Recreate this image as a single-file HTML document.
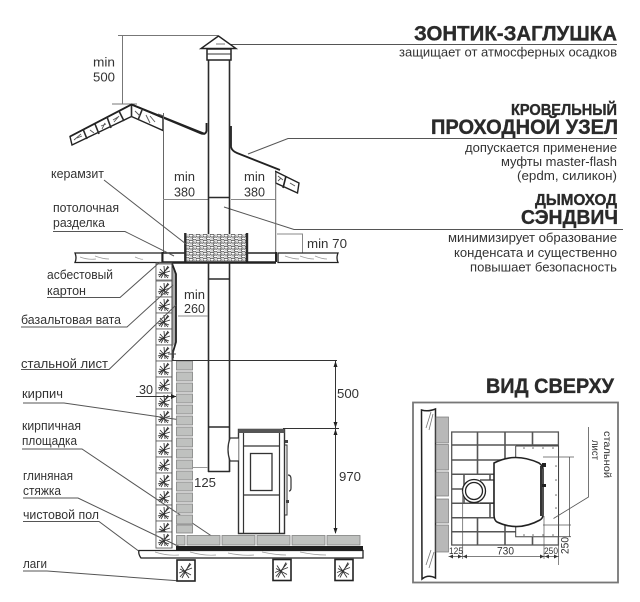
<!DOCTYPE html>
<html><head><meta charset="utf-8"><style>
html,body{margin:0;padding:0;background:#fff;width:640px;height:602px;overflow:hidden}
svg{display:block}
text{font-family:"Liberation Sans",sans-serif;fill:#333;font-size:13px}
.b{font-weight:bold;fill:#2a2a2a;stroke:#2a2a2a;stroke-width:.35}
.l{fill:none;stroke:#555;stroke-width:1}
.d{fill:none;stroke:#2b2b2b;stroke-width:1.6}
.t{fill:none;stroke:#2b2b2b;stroke-width:2.4}
</style></head><body>
<svg width="640" height="602" viewBox="0 0 640 602" xmlns="http://www.w3.org/2000/svg">
<defs>
<symbol id="h" viewBox="0 0 16 16" width="16" height="16" overflow="visible">
<rect x="0" y="0" width="16" height="16" fill="#fff" stroke="#555" stroke-width=".8"/>
<path d="M3 13L13 3M5 14L12 2M3 8L13 12M4 5L12 14M2 11L14 7M8 2L9 14" fill="none" stroke="#333" stroke-width=".9"/>
</symbol>
<symbol id="r" viewBox="0 0 20 23" width="20" height="23" overflow="visible">
<rect x="1" y="1" width="18" height="21" fill="#fff" stroke="#222" stroke-width="1.6"/>
<path d="M4 18L15 5M6 19L14 4M4 10L15 16M5 7L13 19M3 14L16 9" fill="none" stroke="#333" stroke-width=".9"/>
</symbol>
<pattern id="g" width="7" height="6" patternUnits="userSpaceOnUse">
<rect width="7" height="6" fill="#d8d8d8"/>
<ellipse cx="2" cy="1.6" rx="2.1" ry="1.4" fill="#fff" stroke="#444" stroke-width=".8"/>
<ellipse cx="5.5" cy="4.4" rx="2.1" ry="1.4" fill="#fff" stroke="#444" stroke-width=".8"/>
</pattern>
</defs>

<!-- right column text -->
<text x="617" y="40.5" text-anchor="end" class="b" style="font-size:21px" textLength="203" lengthAdjust="spacingAndGlyphs">ЗОНТИК-ЗАГЛУШКА</text>
<path class="l" d="M225 44.5H617"/>
<text x="617" y="56.5" text-anchor="end" textLength="218" lengthAdjust="spacingAndGlyphs">защищает от атмосферных осадков</text>
<text x="617" y="115" text-anchor="end" class="b" style="font-size:16px" textLength="106" lengthAdjust="spacingAndGlyphs">КРОВЕЛЬНЫЙ</text>
<text x="618" y="134" text-anchor="end" class="b" style="font-size:21px" textLength="187" lengthAdjust="spacingAndGlyphs">ПРОХОДНОЙ УЗЕЛ</text>
<path class="l" d="M248 154L288 138.5H617"/>
<text x="617" y="152" text-anchor="end" textLength="152" lengthAdjust="spacingAndGlyphs">допускается применение</text>
<text x="617" y="166" text-anchor="end" textLength="116" lengthAdjust="spacingAndGlyphs">муфты master-flash</text>
<text x="617" y="180" text-anchor="end" textLength="100" lengthAdjust="spacingAndGlyphs">(epdm, силикон)</text>
<text x="617" y="205" text-anchor="end" class="b" style="font-size:16px" textLength="82" lengthAdjust="spacingAndGlyphs">ДЫМОХОД</text>
<text x="618" y="224" text-anchor="end" class="b" style="font-size:20px" textLength="97" lengthAdjust="spacingAndGlyphs">СЭНДВИЧ</text>
<path class="l" d="M224 207L294 229.5H623"/>
<text x="617" y="242" text-anchor="end" textLength="169" lengthAdjust="spacingAndGlyphs">минимизирует образование</text>
<text x="617" y="257" text-anchor="end" textLength="163" lengthAdjust="spacingAndGlyphs">конденсата и существенно</text>
<text x="617" y="271.5" text-anchor="end" textLength="147" lengthAdjust="spacingAndGlyphs">повышает безопасность</text>
<text x="614" y="393" text-anchor="end" class="b" style="font-size:21px" textLength="128" lengthAdjust="spacingAndGlyphs">ВИД СВЕРХУ</text>

<!-- top dim -->
<path d="M118 35.5H218M122.5 35.5V104M112 104H137" fill="none" stroke="#777" stroke-width="1"/>
<text x="93" y="66.5" textLength="22" lengthAdjust="spacingAndGlyphs">min</text>
<text x="93" y="81.5" textLength="22" lengthAdjust="spacingAndGlyphs">500</text>

<!-- left roof -->
<path d="M70 136.5L131.5 104.5L163 118V130.5L131.5 116.5L72 145Z" fill="#fff" stroke="#222" stroke-width="1.4"/>
<path d="M70 136.5L131.5 104.5L205 134" fill="none" stroke="#222" stroke-width="1.8"/>
<path d="M83 129L87 139M95 124L99 134M107 117L111 128M119 111L124 121M131.5 105V117M142 110L138 120" class="d" stroke-width="1.6"/>
<path d="M74 140L81 134M77 138L82 136M90 130L94 133M101 126L106 124M102 129L105 123M113 120L118 117M114 122L119 116M135 111L140 116M146 115L150 123M150 116L155 122" fill="none" stroke="#555" stroke-width=".9"/>
<path d="M131.5 104.5L200 133Q205.5 135.5 206.5 131V123" fill="none" stroke="#222" stroke-width="1.8"/>
<!-- right roof -->
<path d="M275.7 171.5L299 183L297.5 193L275.7 183Z" fill="#fff" stroke="#222" stroke-width="1.4"/>
<path d="M286 176L283 188" fill="none" stroke="#222" stroke-width="1.6"/>
<path d="M278 176L283 180M290 183L295 186M278 181L281 178" fill="none" stroke="#555" stroke-width=".9"/>
<path d="M231 126V147Q232 151 237 153L280 170" fill="none" stroke="#222" stroke-width="1.8"/>

<!-- shaft lines -->
<path d="M163.5 113V253M275.7 172V253" fill="none" stroke="#666" stroke-width="1"/>
<path d="M158 114L163.5 116" fill="none" stroke="#555"/>
<path d="M163 199.5H208M231 199.5H275.7" fill="none" stroke="#888" stroke-width="1"/>
<text x="174" y="181" textLength="21" lengthAdjust="spacingAndGlyphs">min</text>
<text x="174" y="196.5" textLength="21" lengthAdjust="spacingAndGlyphs">380</text>
<text x="244" y="181" textLength="21" lengthAdjust="spacingAndGlyphs">min</text>
<text x="244" y="196.5" textLength="21" lengthAdjust="spacingAndGlyphs">380</text>
<path d="M277 234H302.5V253" fill="none" stroke="#888" stroke-width="1"/>
<text x="307" y="248" textLength="40" lengthAdjust="spacingAndGlyphs">min 70</text>

<!-- ceiling -->
<path d="M75 253H162V262.5H75Q77 258 75 253Z" fill="#fff" stroke="#222" stroke-width="1.3"/>
<path d="M278 253H338Q336 258 338 262.5H278Z" fill="#fff" stroke="#222" stroke-width="1.3"/>
<path d="M80 257q8 3 16 2M95 256q8 3 14 3M135 257q7 3 8 2M285 256q8 3 14 3M300 256q8 3 14 3M315 256q7 3 12 3" fill="none" stroke="#999" stroke-width=".7"/>
<rect x="185" y="234" width="62" height="27" fill="url(#g)"/>
<path d="M162 253H185M247 253H276" fill="none" stroke="#222" stroke-width="1.6"/>
<path d="M185.3 233V262M247 233V262" class="t" stroke-width="1.8"/>
<path d="M162 262.5H276" fill="none" stroke="#222" stroke-width="2.4"/>
<path d="M162.5 252V262M276 252V262" fill="none" stroke="#222" stroke-width="2"/>

<!-- pipe -->
<path d="M208.5 60V234M229.5 60V234M208.5 262V472M229.5 262V472" class="d" stroke-width="1.7"/>
<path d="M208 197.5H230" class="d"/>
<path d="M208 279H230M208 427H230M208 471.5H230" class="d" stroke-width="1.5"/>
<path d="M218.5 36L201 48.5H236Z" fill="#fff" stroke="#222" stroke-width="1.4"/>
<path d="M216 44H225" stroke="#777" fill="none"/>
<rect x="207" y="49" width="24" height="11" fill="#fff" stroke="#222" stroke-width="1.5"/>
<path d="M207 54H231" stroke="#333" stroke-width="1"/>

<!-- wall -->
<rect x="156" y="263" width="16" height="285" fill="#fff" stroke="#666" stroke-width=".8"/>
<use href="#h" x="156" y="264"/><use href="#h" x="156" y="281"/><use href="#h" x="156" y="297"/><use href="#h" x="156" y="313"/>
<use href="#h" x="156" y="329"/><use href="#h" x="156" y="345"/><use href="#h" x="156" y="361"/><use href="#h" x="156" y="377"/>
<use href="#h" x="156" y="393"/><use href="#h" x="156" y="409"/><use href="#h" x="156" y="425"/><use href="#h" x="156" y="441"/>
<use href="#h" x="156" y="457"/><use href="#h" x="156" y="473"/><use href="#h" x="156" y="489"/><use href="#h" x="156" y="505"/><use href="#h" x="156" y="521"/><use href="#h" x="156" y="532"/>
<path d="M172 264V347L175.5 343V272Z" fill="#aaa"/>
<path d="M172 263.5L176 274V342L173 352V358" fill="none" stroke="#222" stroke-width="1.8"/>
<path d="M168 354H176M173 350V360" stroke="#444" fill="none"/>
<path d="M172 263V548" fill="none" stroke="#444" stroke-width="1"/>

<!-- wall labels -->
<text x="51" y="178" textLength="53" lengthAdjust="spacingAndGlyphs">керамзит</text>
<path class="l" d="M104 180L186 244"/>
<text x="53" y="212" textLength="66" lengthAdjust="spacingAndGlyphs">потолочная</text>
<text x="53" y="227" textLength="52" lengthAdjust="spacingAndGlyphs">разделка</text>
<path class="l" d="M53 231.5H125L174 256"/>
<text x="47" y="279" textLength="66" lengthAdjust="spacingAndGlyphs">асбестовый</text>
<text x="47" y="295" textLength="39" lengthAdjust="spacingAndGlyphs">картон</text>
<path class="l" d="M47 297.5H120L160 262"/>
<text x="21" y="324" textLength="100" lengthAdjust="spacingAndGlyphs">базальтовая вата</text>
<path class="l" d="M21 327H127L173 285"/>
<text x="21" y="368" textLength="87" lengthAdjust="spacingAndGlyphs">стальной лист</text>
<path class="l" d="M21 369.5H109L176 305"/>
<text x="139" y="394" textLength="14" lengthAdjust="spacingAndGlyphs">30</text>
<path d="M136 396.5H176" fill="none" stroke="#333"/>
<path d="M176 396.5L171 394V399Z" fill="#222"/>
<text x="22" y="398" textLength="41" lengthAdjust="spacingAndGlyphs">кирпич</text>
<path class="l" d="M23 403H64L181 420"/>
<text x="22" y="430" textLength="59" lengthAdjust="spacingAndGlyphs">кирпичная</text>
<text x="22" y="445" textLength="55" lengthAdjust="spacingAndGlyphs">площадка</text>
<path class="l" d="M22 449H82L219 541"/>
<text x="23" y="480" textLength="50" lengthAdjust="spacingAndGlyphs">глиняная</text>
<text x="23" y="495" textLength="38" lengthAdjust="spacingAndGlyphs">стяжка</text>
<path class="l" d="M23 498H78L180 547"/>
<text x="23" y="519" textLength="76" lengthAdjust="spacingAndGlyphs">чистовой пол</text>
<path class="l" d="M23 521.5H99L140 552"/>
<text x="23" y="568" textLength="24" lengthAdjust="spacingAndGlyphs">лаги</text>
<path class="l" d="M23 571H47L181 581"/>
<text x="184" y="299" textLength="21" lengthAdjust="spacingAndGlyphs">min</text>
<text x="184" y="313" textLength="21" lengthAdjust="spacingAndGlyphs">260</text>
<path d="M178 316H208" stroke="#888" fill="none"/>

<!-- vertical bricks -->
<g fill="#bfc1bf" stroke="#808080" stroke-width=".8">
<rect x="176.5" y="361" width="16" height="9"/><rect x="176.5" y="372" width="16" height="9"/><rect x="176.5" y="383" width="16" height="9"/><rect x="176.5" y="394" width="16" height="9"/><rect x="176.5" y="405" width="16" height="9"/><rect x="176.5" y="416" width="16" height="9"/><rect x="176.5" y="427" width="16" height="9"/><rect x="176.5" y="438" width="16" height="9"/><rect x="176.5" y="449" width="16" height="9"/><rect x="176.5" y="460" width="16" height="9"/><rect x="176.5" y="471" width="16" height="9"/><rect x="176.5" y="482" width="16" height="9"/><rect x="176.5" y="493" width="16" height="9"/><rect x="176.5" y="504" width="16" height="9"/><rect x="176.5" y="515" width="16" height="9"/><rect x="176.5" y="525" width="16" height="8"/>
<rect x="176.5" y="535.5" width="8.5" height="9.5"/><rect x="187" y="535.5" width="33" height="9.5"/><rect x="222" y="535.5" width="33" height="9.5"/><rect x="257" y="535.5" width="33" height="9.5"/><rect x="292" y="535.5" width="33" height="9.5"/><rect x="327" y="535.5" width="33" height="9.5"/>
</g>
<path d="M193 467.5H208" stroke="#999" fill="none"/>
<text x="194" y="487" textLength="22" lengthAdjust="spacingAndGlyphs">125</text>

<!-- floor -->
<rect x="176" y="546" width="187" height="4.5" fill="#1e1e1e"/>
<path d="M139 550.5H363V558H141Q138 554 139 550.5Z" fill="#fff" stroke="#222" stroke-width="1.3"/>
<path d="M155 552q12 4 24 3M190 552q14 4 26 3M228 553q14 3 26 2M262 552q14 3 24 3M300 552q14 3 26 3" fill="none" stroke="#999" stroke-width=".7"/>
<use href="#r" x="176" y="559"/><use href="#r" x="272" y="558.5"/><use href="#r" x="334" y="558.5"/>

<!-- stove -->
<path d="M238.5 429.5H284.5V533.5H238.5Z" fill="#fff" stroke="#333" stroke-width="1.4"/>
<rect x="238.5" y="429" width="46" height="4" fill="#555"/>
<path d="M243.5 433V533M279.5 433V533M243.5 446H279.5M243.5 495H279.5" fill="none" stroke="#333" stroke-width="1.2"/>
<rect x="250.5" y="453.5" width="21.5" height="37" fill="#fff" stroke="#333" stroke-width="1.3"/>
<path d="M284.5 445H287V515H284.5" fill="none" stroke="#333"/>
<rect x="285" y="440" width="3" height="3" fill="#444"/><rect x="286" y="500" width="3" height="3" fill="#444"/>
<path d="M288 475q3 0 3 4v9q0 3-2 3" fill="none" stroke="#333" stroke-width="1.2"/>
<path d="M238.5 438H230Q226 449.5 230 461H238.5" fill="#fff" stroke="#333" stroke-width="1.3"/>

<!-- dims -->
<path d="M172 360.5H337M283 428.5H339M335.5 361V533" fill="none" stroke="#333" stroke-width="1"/>
<path d="M335.5 361l-2 6h4zM335.5 428l-2-6h4zM335.5 429l-2 6h4zM335.5 534l-2-6h4z" fill="#222"/>
<text x="337" y="398" textLength="22" lengthAdjust="spacingAndGlyphs">500</text>
<text x="339" y="481" textLength="22" lengthAdjust="spacingAndGlyphs">970</text>

<!-- top view -->
<rect x="413" y="402.5" width="205" height="180" fill="#fff" stroke="#777" stroke-width="1.8"/>
<path d="M421.5 410Q428 412 435.5 409V578Q428 574 422 579Z" fill="#fff" stroke="#222" stroke-width="1.5"/>
<path d="M426 428L431 412M429 430L433 414M426 565L431 550M429 568L434 552" stroke="#777" fill="none" stroke-width=".8"/>
<g fill="#b8b8b8" stroke="#777" stroke-width=".7">
<rect x="436" y="417" width="12.5" height="26"/><rect x="436" y="444.5" width="12.5" height="25.5"/><rect x="436" y="472" width="12.5" height="24"/><rect x="436" y="499" width="12.5" height="24"/><rect x="436" y="525" width="12.5" height="27"/>
</g>
<rect x="451.7" y="432" width="106.7" height="113" fill="#fff" stroke="#555" stroke-width="1.3"/>
<path d="M451.7 445H558M451.7 460H516M451.7 474.3H494M451.7 489H470M451.7 503.3H494M451.7 517.7H516M451.7 531.7H558" stroke="#555" fill="none" stroke-width="1.5"/>
<path d="M477.5 432V474M505 432V460M532.5 432V445M464 474V489M490 474V482M464 503V489M490 503V518M477.5 518V545M505 518V545M532.5 532V545" stroke="#555" fill="none" stroke-width="1.6"/>
<path d="M515.7 446H558.5V536.7H515.7V525M515.7 446V458" fill="#fff" stroke="#444" stroke-width="1"/>
<g fill="#666"><circle cx="524" cy="448" r=".8"/><circle cx="533" cy="448" r=".8"/><circle cx="543" cy="448" r=".8"/><circle cx="553" cy="448" r=".8"/><circle cx="556" cy="466" r=".8"/><circle cx="556" cy="480" r=".8"/><circle cx="556" cy="495" r=".8"/><circle cx="556" cy="508" r=".8"/><circle cx="524" cy="535" r=".8"/><circle cx="533" cy="535" r=".8"/><circle cx="543" cy="535" r=".8"/><circle cx="553" cy="535" r=".8"/></g>
<path d="M480 480H494V503H480" fill="#fff" stroke="#333" stroke-width="1.2"/>
<path d="M494 463Q515 452 539 463Q543 466 543 469V515Q543 518 540 520Q518 532 497 522Q494 520 494 515V468Q494 465 494 463Z" fill="#fff" stroke="#222" stroke-width="1.6"/>
<path d="M541 466V516" stroke="#333" stroke-width="2" fill="none"/>
<rect x="542" y="463" width="4" height="4" fill="#222"/><rect x="542" y="484" width="4" height="3" fill="#222"/>
<circle cx="474" cy="491" r="11.5" fill="#fff" stroke="#222" stroke-width="1.3"/>
<circle cx="474" cy="491" r="8.5" fill="#fff" stroke="#222" stroke-width="1.3"/>
<path d="M543 457H574M543 525H571M558.5 536.7H571M569.5 457V537M448.5 556.5H559" fill="none" stroke="#555" stroke-width=".8"/>
<path d="M462.7 491V559M558.5 537V565M544 516V559" fill="none" stroke="#555" stroke-width=".7"/>
<path d="M449 556.5l4-2v4zM462 556.5l-4-2v4zM463 556.5l4-2v4zM544 556.5l-4-2v4zM545 556.5l4-2v4zM558 556.5l-4-2v4z" fill="#333"/>
<path d="M553.5 518.5L588.5 497V427" fill="none" stroke="#555" stroke-width=".8"/>
<text x="449" y="554" style="font-size:9.5px" textLength="14" lengthAdjust="spacingAndGlyphs">125</text>
<text x="497" y="554.5" style="font-size:11px" textLength="17" lengthAdjust="spacingAndGlyphs">730</text>
<text x="544" y="554" style="font-size:9.5px" textLength="14" lengthAdjust="spacingAndGlyphs">250</text>
<text transform="translate(560.5 554) rotate(-90)" x="0" y="8" style="font-size:11px" textLength="17" lengthAdjust="spacingAndGlyphs">250</text>
<text transform="translate(604 431) rotate(90)" style="font-size:10.5px" textLength="47" lengthAdjust="spacingAndGlyphs">стальной</text>
<text transform="translate(592 440) rotate(90)" style="font-size:10.5px" textLength="20" lengthAdjust="spacingAndGlyphs">лист</text>
</svg>
</body></html>
